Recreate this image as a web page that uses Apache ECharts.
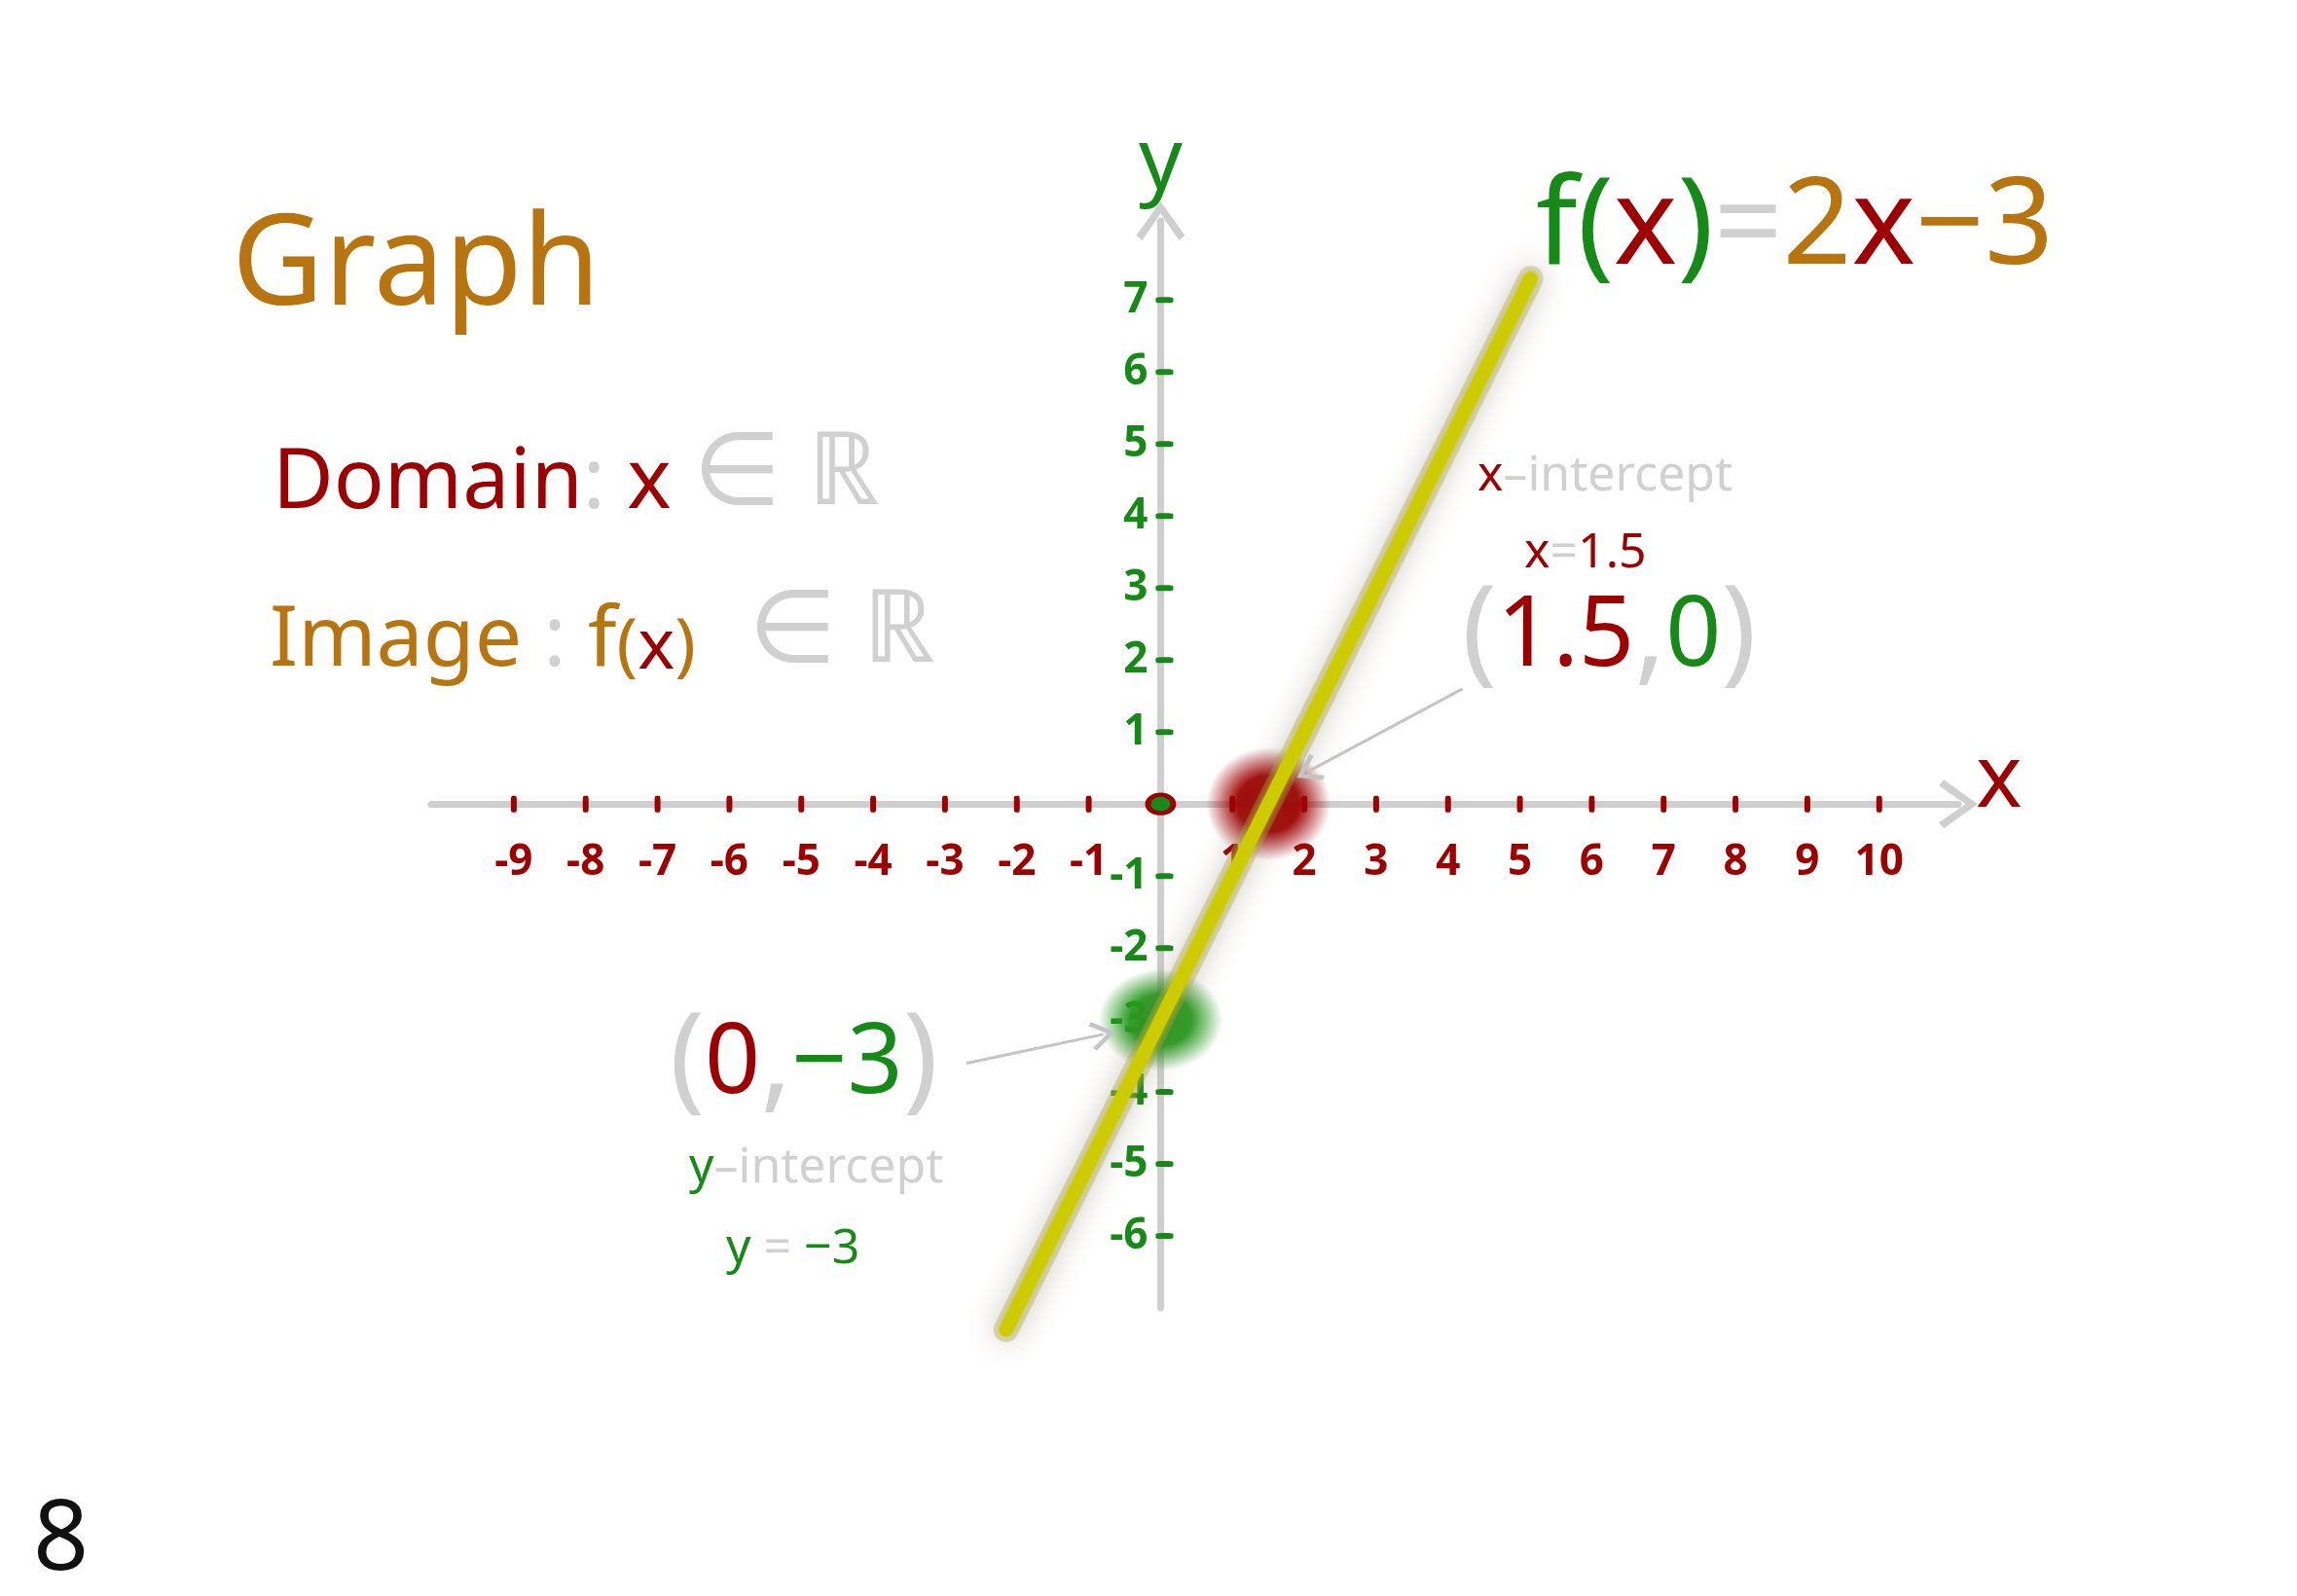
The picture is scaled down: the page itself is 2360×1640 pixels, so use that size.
<!DOCTYPE html>
<html>
<head>
<meta charset="utf-8">
<style>
  html, body { margin: 0; padding: 0; background: #fff; }
  #main { width: 2360px; height: 1640px; }
</style>
<script src="https://cdn.jsdelivr.net/npm/echarts@6/dist/echarts.min.js"></script>
</head>
<body>
<div id="main"></div>
<script>
// values
var xTicks = [-9, -8, -7, -6, -5, -4, -3, -2, -1, 1, 2, 3, 4, 5, 6, 7, 8, 9, 10];
var yTicks = [-6, -5, -4, -3, -2, -1, 1, 2, 3, 4, 5, 6, 7];
var lineX = [-2.15, 5.15];
var lineY = [-7.3, 7.3];
var origin = [0, 0];
var xIntercept = [1.5, 0];
var yIntercept = [0, -3];
var xArrow = [[4.2, 1.6], [2.05, 0.45]];
var yArrow = [[-2.7, -3.6], [-0.8, -3.2]];

var RED = '#9e0000';
var GREEN = '#168a16';
var GOLD = '#b7740f';
var GREY = '#d0d0d0';
var FONT = '"Noto Sans", "DejaVu Sans", sans-serif';
var chevron = 'path://M50,0 L100,70 L88,80 L50,25 L12,80 L0,70 Z';

var chart = echarts.init(document.getElementById('main'));

function pairs(xs, ys) {
	var out = [];
	for (var i = 0; i < xs.length; i++) out.push([xs[i], ys[i]]);
	return out;
}

function blob(rgb) {
	return {
		type: 'radial', x: 0.5, y: 0.5, r: 0.5,
		colorStops: [
			{ offset: 0, color: 'rgba(' + rgb + ',1)' },
			{ offset: 0.5, color: 'rgba(' + rgb + ',0.95)' },
			{ offset: 1, color: 'rgba(' + rgb + ',0)' }
		]
	};
}

// rich token helper (graphic text uses zrender style names)
function tok(fill, size, extra) {
	var t = { fill: fill, fontSize: size, fontFamily: FONT, verticalAlign: 'bottom' };
	if (extra) for (var k in extra) t[k] = extra[k];
	return t;
}

function txt(x, y, rich, content) {
	return {
		type: 'text', x: x, y: y, z: 10,
		style: { rich: rich, text: content, fontFamily: FONT, align: 'left', verticalAlign: 'middle' }
	};
}

var axisLine = {
	onZero: true,
	symbol: ['none', chevron], symbolSize: [50, 40],
	lineStyle: { color: '#cfcfcf', width: 7, cap: 'round' }
};

var option = {
	backgroundColor: '#fff',
	animation: false,
	grid: { left: 443, top: 227, width: 1569, height: 1117, outerBoundsMode: 'none' },
	xAxis: {
		type: 'value', min: -10.15, max: 11.1,
		splitLine: { show: false },
		axisLine: axisLine,
		axisTick: { show: false },
		axisLabel: { show: false },
		name: 'x', nameLocation: 'end', nameGap: 18,
		nameTextStyle: { color: RED, fontSize: 90, fontFamily: FONT, verticalAlign: 'bottom', lineHeight: 46 }
	},
	yAxis: {
		type: 'value', min: -7, max: 8.1,
		splitLine: { show: false },
		axisLine: axisLine,
		axisTick: { show: false },
		axisLabel: { show: false },
		name: 'y', nameLocation: 'end', nameGap: 14,
		nameTextStyle: { color: GREEN, fontSize: 88, fontFamily: FONT }
	},
	series: [
		{
			// x axis tick marks and labels
			type: 'scatter', z: 3, silent: true,
			symbol: 'roundRect', symbolSize: [6, 17],
			itemStyle: { color: RED, opacity: 1 },
			label: {
				show: true, position: 'bottom', distance: 30,
				formatter: function (p) { return p.value[0]; },
				color: RED, fontSize: 44, fontWeight: 'bold', fontFamily: FONT
			},
			data: xTicks.map(function (v) { return [v, 0]; })
		},
		{
			// y axis tick marks and labels
			type: 'scatter', z: 3, silent: true,
			symbol: 'roundRect', symbolSize: [18, 6], symbolOffset: [4, 0],
			itemStyle: { color: GREEN, opacity: 1 },
			label: {
				show: true, position: 'left', distance: 8,
				formatter: function (p) { return p.value[1]; },
				color: GREEN, fontSize: 44, fontWeight: 'bold', fontFamily: FONT
			},
			data: yTicks.map(function (v) { return [0, v]; })
		},
		{
			type: 'scatter', z: 4, silent: true,
			symbol: 'circle', symbolSize: [128, 116],
			itemStyle: { color: blob('160,0,0'), opacity: 1 },
			data: [xIntercept]
		},
		{
			type: 'scatter', z: 4, silent: true,
			symbol: 'circle', symbolSize: [128, 104],
			itemStyle: { color: blob('40,155,30'), opacity: 1 },
			data: [yIntercept]
		},
		{
			// soft glow of the line
			type: 'line', z: 5, silent: true, showSymbol: false, clip: false,
			lineStyle: {
				width: 26, color: 'rgba(165,160,90,0.35)', cap: 'round',
				shadowBlur: 30, shadowColor: 'rgba(110,100,70,0.9)'
			},
			data: pairs(lineX, lineY)
		},
		{
			type: 'line', z: 6, silent: true, showSymbol: false, clip: false,
			lineStyle: {
				width: 14, color: '#cccc00', cap: 'round',
				shadowBlur: 6, shadowColor: 'rgba(200,200,0,0.8)'
			},
			data: pairs(lineX, lineY),
			markLine: {
				silent: true, z: 6,
				symbol: ['none', chevron], symbolSize: [30, 26],
				label: { show: false },
				lineStyle: { color: '#c4c4c4', width: 3, type: 'solid', shadowBlur: 0 },
				data: [
					[{ coord: xArrow[0] }, { coord: xArrow[1] }],
					[{ coord: yArrow[0] }, { coord: yArrow[1] }]
				]
			}
		},
		{
			type: 'scatter', z: 7, silent: true,
			symbol: 'circle', symbolSize: [26, 19],
			itemStyle: { color: GREEN, borderColor: RED, borderWidth: 5, opacity: 1 },
			data: [origin]
		}
	],
	graphic: [
		txt(238, 276, { g: tok(GOLD, 130) }, '{g|Graph}'),
		txt(280, 488, { r: tok(RED, 86), c: tok(GREY, 86), m: tok(GREY, 104) },
			'{r|Domain}{c|: }{r|x }{m|∈ ℝ}'),
		txt(277, 650, { o: tok(GOLD, 86), c: tok(GREY, 86), p: tok(GOLD, 72), r: tok(RED, 72), m: tok(GREY, 104) },
			'{o|Image }{c|: }{o|f}{p|(}{r|x}{p|)}{m|  ∈ ℝ}'),
		txt(1578, 236, { g: tok(GREEN, 124), r: tok(RED, 124), e: tok(GREY, 124), o: tok(GOLD, 124) },
			'{g|f(}{r|x}{g|)}{e|=}{o|2}{r|x}{o|−3}'),
		txt(1518, 490, { r: tok(RED, 50), c: tok(GREY, 50) }, '{r|x}{c|–intercept}'),
		txt(1566, 569, { r: tok(RED, 50), c: tok(GREY, 50) }, '{r|x}{c|=}{r|1.5}'),
		txt(1502, 654, {
			p: tok(GREY, 120),
			r: tok(RED, 100, { padding: [0, 0, 8, 0] }),
			g: tok(GREEN, 100, { padding: [0, 0, 8, 0] })
		}, '{p|(}{r|1.5}{p|,}{g|0}{p|)}'),
		txt(688, 1093, {
			p: tok(GREY, 120),
			r: tok(RED, 100, { padding: [0, 0, 8, 0] }),
			g: tok(GREEN, 100, { padding: [0, 0, 8, 0] })
		}, '{p|(}{r|0}{p|,}{g|−3}{p|)}'),
		txt(708, 1201, { g: tok(GREEN, 50), c: tok(GREY, 50) }, '{g|y}{c|–intercept}'),
		txt(746, 1284, { g: tok(GREEN, 50), c: tok(GREY, 50) }, '{g|y }{c|= }{g|−3}'),
		txt(34, 1585, { k: tok('#111', 100) }, '{k|8}')
	]
};

chart.setOption(option);
</script>
</body>
</html>
